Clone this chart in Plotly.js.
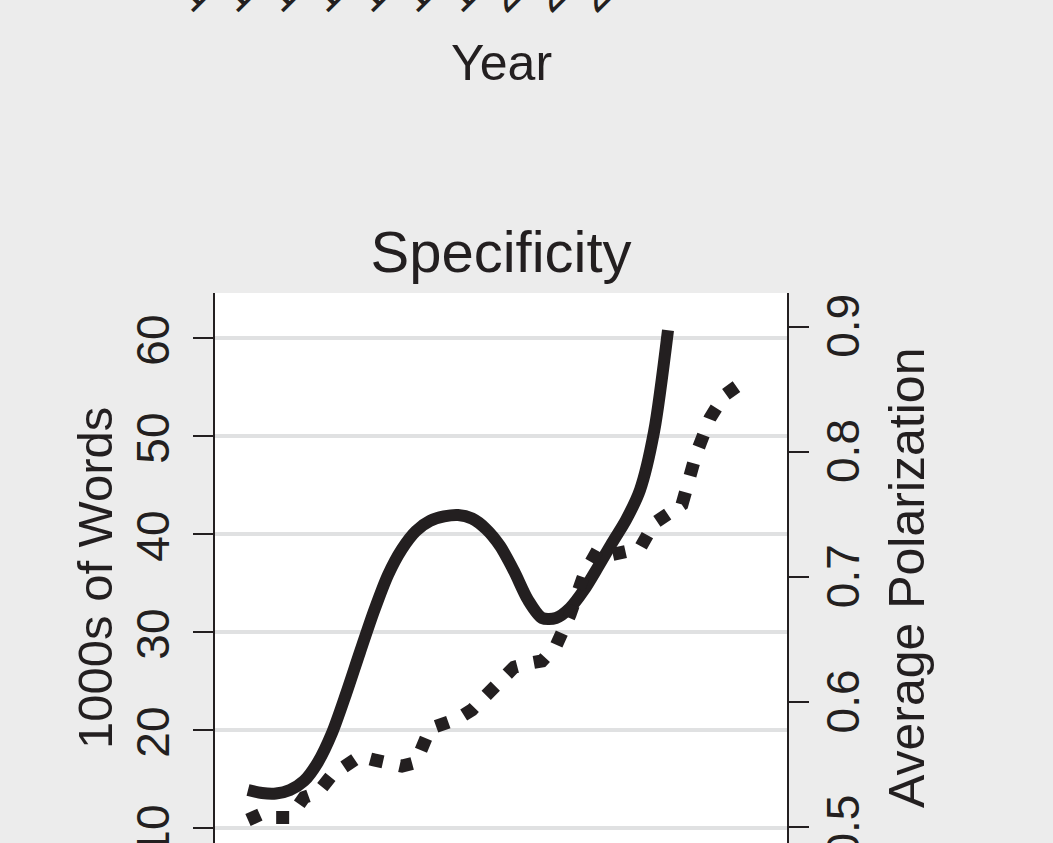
<!DOCTYPE html>
<html>
<head>
<meta charset="utf-8">
<script src="https://cdn.plot.ly/plotly-3.0.1.min.js"></script>
<style>
  html, body { margin:0; padding:0; width:1053px; height:843px; overflow:hidden; background:#ececec; }
  #chart { position:absolute; left:0; top:-200px; width:1053px; height:1130px; }
</style>
</head>
<body>
<div id="chart"></div>
<script>
// ---- data ----
const wordYears = [1973,1974,1975,1976,1977,1978,1979,1980,1981,1982,1983,1984,1985,1986,1987,1988,
  1989,1990,1991,1992,1993,1994,1995,1996,1997,1998,1999,2000,2001,2002,2003];
const thousandsOfWords = [13.88,13.57,13.52,13.88,14.80,16.73,19.69,23.67,27.96,32.14,35.82,38.47,40.31,
  41.33,41.79,41.94,41.58,40.51,38.78,36.22,33.27,31.43,31.43,32.45,34.29,36.63,39.08,41.43,44.49,50.41,60.8];

const polYears = [1973,1974,1975,1976,1977,1978,1979,1980,1981,1982,1983,1984,1985,1986,1987,1988,
  1989,1990,1991,1992,1993,1994,1995,1996,1997,1998,1999,2000,2001,2002,2003,2004,2005,2006,2007,2008,2009];
const avgPolarization = [0.506,0.511,0.508,0.508,0.524,0.528,0.542,0.551,0.557,0.554,0.552,0.549,0.552,
  0.579,0.583,0.587,0.594,0.606,0.618,0.628,0.631,0.633,0.645,0.670,0.702,0.722,0.718,0.720,0.723,
  0.743,0.750,0.758,0.798,0.827,0.845,0.853,0.857];

const leftTicks = [10,20,30,40,50,60];
const leftTickLabels = ['10','20','30','40','50','60'];
const rightTicks = [0.5,0.6,0.7,0.8,0.9];
const rightTickLabels = ['0.5','0.6','0.7','0.8','0.9'];
// upper panel's year axis (only the ends of its labels are in view)
const upperYearTicks = [1965,1970,1975,1980,1985,1990,1995,2000,2005,2010];
const upperYearLabels = ['1965','1970','1975','1980','1985','1990','1995','2000','2005','2010'];

const ink = '#231f20';
const FONT = '"Liberation Sans", Arial, Helvetica, sans-serif';

const traces = [
  { x: wordYears, y: thousandsOfWords, type:'scatter', mode:'lines', xaxis:'x', yaxis:'y',
    line:{color:ink, width:12, shape:'spline', smoothing:0.8}, hoverinfo:'skip' },
  { x: polYears, y: avgPolarization, type:'scatter', mode:'lines', xaxis:'x', yaxis:'y2',
    line:{color:ink, width:13, dash:'13px,17px'}, hoverinfo:'skip' },
  { x: [], y: [], type:'scatter', mode:'lines', xaxis:'x2', yaxis:'y3', hoverinfo:'skip' }
];

const tickStyle = { ticks:'outside', ticklen:20, tickwidth:2, tickcolor:ink,
  showline:true, linewidth:2, linecolor:ink, zeroline:false, tickangle:-90,
  tickfont:{size:46, color:ink, family:FONT} };

const layout = {
  width:1053, height:1130,
  paper_bgcolor:'#ececec', plot_bgcolor:'#ffffff',
  margin:{l:215, r:266, t:0, b:60, pad:0},
  showlegend:false,
  font:{family:FONT, color:ink},
  title:{ text:'Specificity', font:{size:58, color:ink, family:FONT},
    x:0.5, xref:'paper', xanchor:'center', y:0.6005, yref:'container', yanchor:'middle' },
  xaxis:{ domain:[0,1], anchor:'y', range:[1970.643, 2011.5], showgrid:false, zeroline:false,
    showline:true, linewidth:2, linecolor:ink, ticks:'', showticklabels:false },
  yaxis:Object.assign({}, tickStyle, {
    domain:[0, 0.539252], anchor:'x', range:[5.7143, 64.592],
    tickvals:leftTicks, ticktext:leftTickLabels, ticklabelstandoff:6, ticklabelshift:9,
    showgrid:true, gridcolor:'#e0e1e2', gridwidth:4 }),
  yaxis2:Object.assign({}, tickStyle, {
    overlaying:'y', side:'right', anchor:'x', range:[0.46605, 0.92692],
    tickvals:rightTicks, ticktext:rightTickLabels, showgrid:false, ticklabelstandoff:-5, ticklabelshift:6 }),
  xaxis2:{ domain:[0,1], anchor:'y3', range:[1961.444, 2025.0], tickvals:upperYearTicks, ticktext:upperYearLabels,
    tickangle:-45, ticks:'outside', ticklen:15, tickwidth:2, tickcolor:ink, showline:true, linewidth:2,
    linecolor:ink, showgrid:false, zeroline:false, tickfont:{size:46, color:ink, family:FONT} },
  yaxis3:{ domain:[0.92804, 1], anchor:'x2', visible:false, range:[0,1] },
  annotations:[
    { text:'Year', xref:'paper', x:0.5, xanchor:'center', yref:'paper', y:0.75421, yanchor:'middle',
      showarrow:false, font:{size:50, color:ink, family:FONT} },
    { text:'1000s of Words', textangle:-90, xref:'paper', x:-0.2098, xanchor:'center',
      yref:'paper', y:0.2729, yanchor:'middle', showarrow:false, font:{size:49, color:ink, family:FONT} },
    { text:'Average Polarization', textangle:-90, xref:'paper', x:1.2098, xanchor:'center',
      yref:'paper', y:0.2729, yanchor:'middle', showarrow:false, font:{size:50, color:ink, family:FONT} }
  ]
};

Plotly.newPlot('chart', traces, layout, {staticPlot:true, displayModeBar:false});
</script>
</body>
</html>
